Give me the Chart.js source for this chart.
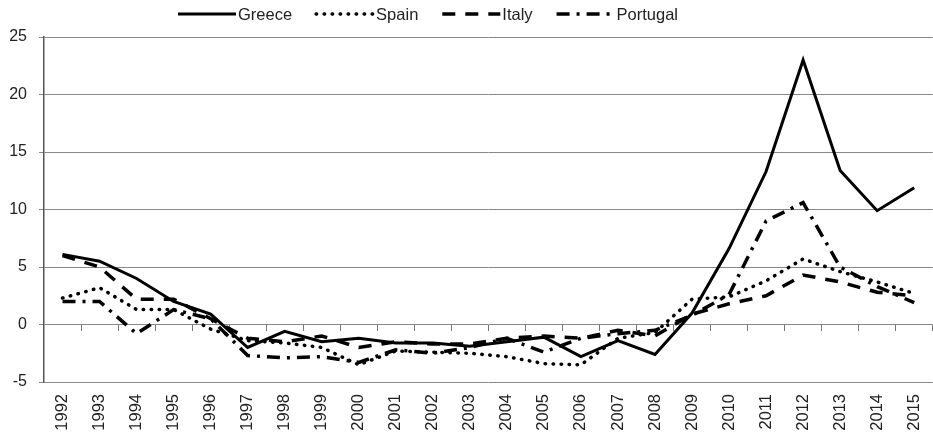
<!DOCTYPE html>
<html>
<head>
<meta charset="utf-8">
<script src="https://cdn.jsdelivr.net/npm/chart.js@4.4.1/dist/chart.umd.min.js"></script>
<style>
  html, body { margin: 0; padding: 0; background: #fff; overflow: hidden; }
  #wrap { width: 938px; height: 438px; }
</style>
</head>
<body>
<div id="wrap"><canvas id="chart" width="938" height="438"></canvas></div>
<script>
const years = ['1992','1993','1994','1995','1996','1997','1998','1999','2000','2001','2002','2003',
               '2004','2005','2006','2007','2008','2009','2010','2011','2012','2013','2014','2015'];

const greece   = [6.1, 5.5, 4.0, 2.0, 0.9, -2.0, -0.6, -1.5, -1.2, -1.6, -1.6, -1.9,
                  -1.5, -1.1, -2.8, -1.4, -2.6, 1.0, 6.6, 13.3, 23.0, 13.4, 9.9, 11.9];
const spain    = [2.3, 3.2, 1.3, 1.3, -0.4, -1.4, -1.6, -2.0, -3.5, -2.3, -2.4, -2.5,
                  -2.8, -3.4, -3.5, -1.2, -0.7, 2.2, 2.4, 3.8, 5.7, 4.6, 3.7, 2.7];
const italy    = [6.0, 5.0, 2.2, 2.2, 0.5, -1.2, -1.5, -1.0, -2.0, -1.5, -1.7, -1.7,
                  -1.2, -1.0, -1.2, -0.5, -1.0, 0.9, 1.8, 2.5, 4.3, 3.7, 2.8, 2.5];
const portugal = [2.0, 2.0, -0.8, 1.3, 0.5, -2.7, -2.9, -2.8, -3.3, -2.2, -2.5, -2.0,
                  -1.2, -2.4, -1.2, -0.8, -0.5, 0.8, 2.6, 9.0, 10.6, 5.0, 3.3, 1.9];

const yTicks = [-5, 0, 5, 10, 15, 20, 25];

const FONT = '"Liberation Sans", Arial, sans-serif';

// legend drawn by hand so the dash patterns match the lines (Excel-like layout)
const lineLegend = {
    id: 'lineLegend',
    afterDraw(chart) {
        const c = chart.ctx;
        const sample = 58, textGap = 60, itemGap = 24;
        let x = 178;
        const y = 14;
        c.save();
        c.font = '16.5px ' + FONT;
        c.textBaseline = 'middle';
        c.textAlign = 'left';
        chart.data.datasets.forEach(ds => {
            c.beginPath();
            c.strokeStyle = ds.borderColor;
            c.lineWidth = ds.borderWidth;
            c.lineCap = ds.borderCapStyle || 'butt';
            c.setLineDash(ds.borderDash || []);
            c.moveTo(x, y);
            c.lineTo(x + sample, y);
            c.stroke();
            c.setLineDash([]);
            c.fillStyle = '#222';
            c.fillText(ds.label, x + textGap, y + 1);
            x += textGap + c.measureText(ds.label).width + itemGap;
        });
        c.restore();
    }
};

const ctx = document.getElementById('chart').getContext('2d');
new Chart(ctx, {
    type: 'line',
    data: {
        labels: years,
        datasets: [
            { label: 'Greece', data: greece, borderColor: '#000', borderWidth: 3, borderDash: [] },
            { label: 'Spain', data: spain, borderColor: '#000', borderWidth: 3.5, borderDash: [0.5, 7.5], borderCapStyle: 'round' },
            { label: 'Italy', data: italy, borderColor: '#000', borderWidth: 3.5, borderDash: [13, 10] },
            { label: 'Portugal', data: portugal, borderColor: '#000', borderWidth: 3.5, borderDash: [13, 7, 3, 7] }
        ]
    },
    plugins: [lineLegend],
    options: {
        responsive: false,
        animation: false,
        layout: { padding: { top: 37, right: 0, bottom: 0, left: 0 } },
        elements: {
            point: { radius: 0 },
            line: { tension: 0, fill: false, borderJoinStyle: 'miter' }
        },
        plugins: {
            tooltip: { enabled: false },
            legend: { display: false }
        },
        scales: {
            x: {
                type: 'category',
                offset: true,
                grid: { display: false },
                border: { display: false },
                ticks: {
                    minRotation: 90,
                    maxRotation: 90,
                    autoSkip: false,
                    padding: 4,
                    color: '#222',
                    font: { family: FONT, size: 16.5 }
                },
                afterFit: (scale) => { scale.height = 56; }
            },
            x2: {
                type: 'category',
                labels: years,
                position: { y: 0 },
                offset: true,
                grid: { offset: true, drawOnChartArea: false, tickLength: 6, color: '#777' },
                border: { display: false },
                ticks: { display: false }
            },
            y: {
                min: -5,
                max: 25,
                afterBuildTicks: (scale) => { scale.ticks = yTicks.map(v => ({ value: v })); },
                grid: { color: '#888', lineWidth: 1, tickLength: 5 },
                border: { color: '#555', width: 1.5 },
                ticks: {
                    padding: 12,
                    color: '#222',
                    font: { family: FONT, size: 16 }
                },
                afterFit: (scale) => { scale.width = 44; }
            }
        }
    }
});
</script>
</body>
</html>
